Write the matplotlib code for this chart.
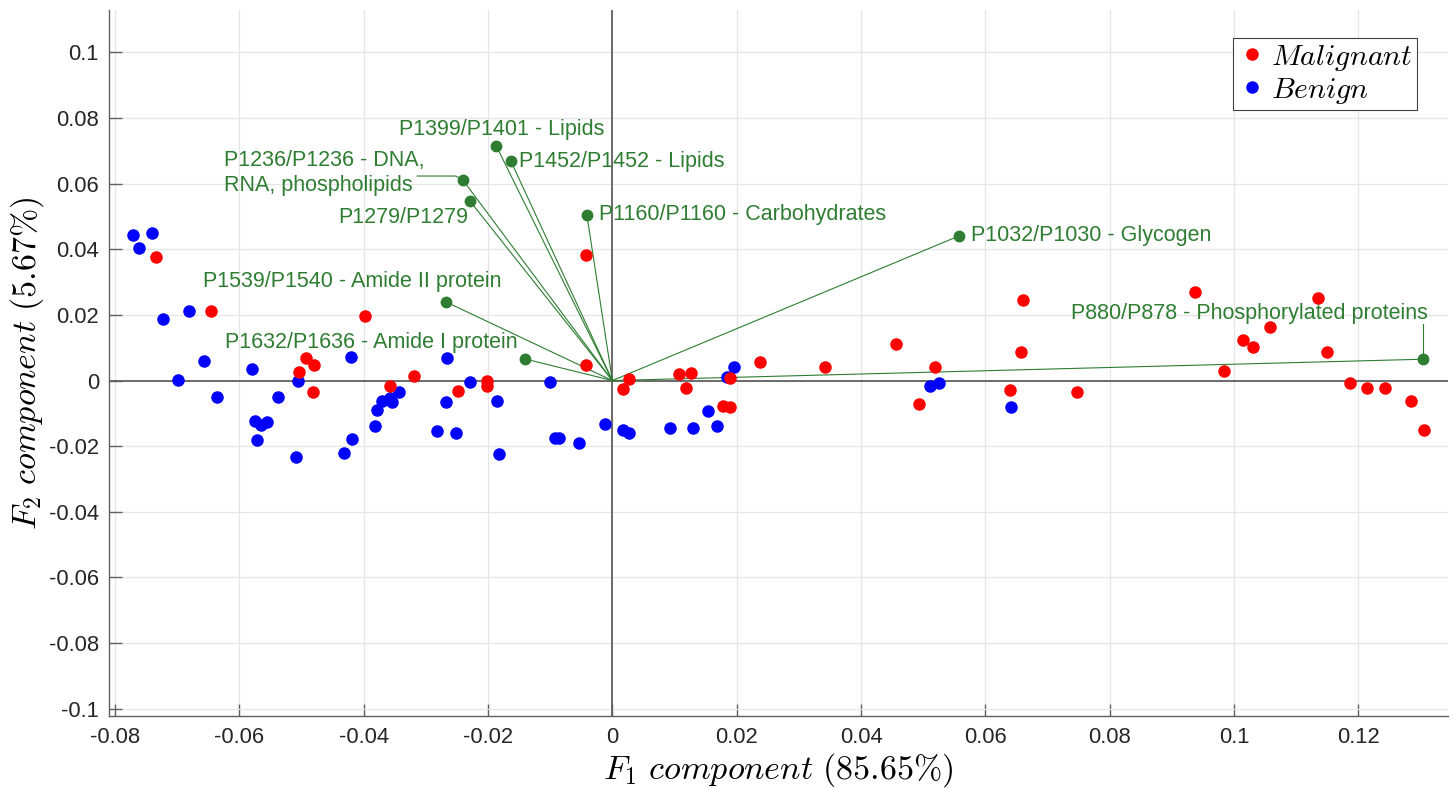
import numpy as np
import matplotlib
matplotlib.use("Agg")
import matplotlib.pyplot as plt
import matplotlib.transforms as mtransforms

plt.rcParams['font.family'] = ['Liberation Sans', 'DejaVu Sans']
plt.rcParams['mathtext.fontset'] = 'cm'

GREEN = "#2E7D32"

# PCA scores
mal_x = [-0.0734, -0.0646, -0.0398, -0.0492, -0.0480, -0.0504, -0.0481, -0.0043, -0.0043,
         -0.0319, -0.0357, -0.0249, -0.0202, -0.0202, 0.0027, 0.0017, 0.0107, 0.0126,
         0.0119, 0.0178, 0.0190, 0.0189, 0.0238, 0.0342, 0.0457, 0.0519, 0.0493, 0.0661,
         0.0658, 0.0640, 0.0747, 0.0937, 0.1135, 0.1058, 0.1014, 0.1031, 0.1149, 0.0983,
         0.1186, 0.1213, 0.1243, 0.1284, 0.1306]
mal_y = [0.0376, 0.0213, 0.0197, 0.0068, 0.0048, 0.0027, -0.0034, 0.0048, 0.0383,
         0.0013, -0.0016, -0.0031, -0.0001, -0.0018, 0.0005, -0.0025, 0.0020, 0.0023,
         -0.0023, -0.0078, -0.0081, 0.0007, 0.0055, 0.0040, 0.0112, 0.0040, -0.0072, 0.0245,
         0.0087, -0.0029, -0.0034, 0.0269, 0.0250, 0.0163, 0.0124, 0.0101, 0.0088, 0.0030,
         -0.0007, -0.0023, -0.0023, -0.0062, -0.0150]

ben_x = [-0.0771, -0.0741, -0.0761, -0.0722, -0.0681, -0.0657, -0.0698, -0.0579, -0.0505,
         -0.0421, -0.0636, -0.0538, -0.0574, -0.0565, -0.0555, -0.0571, -0.0508, -0.0431,
         -0.0418, -0.0266, -0.0343, -0.0371, -0.0358, -0.0355, -0.0379, -0.0381, -0.0229,
         -0.0267, -0.0185, -0.0100, -0.0282, -0.0252, -0.0182, -0.0092, -0.0086, -0.0054,
         -0.0012, 0.0017, 0.0027, 0.0093, 0.0129, 0.0154, 0.0169, 0.0196, 0.0185, 0.0511,
         0.0525, 0.0641]
ben_y = [0.0444, 0.0451, 0.0405, 0.0187, 0.0211, 0.0061, 0.0003, 0.0034, -0.0002,
         0.0072, -0.0051, -0.0050, -0.0122, -0.0135, -0.0126, -0.0181, -0.0233, -0.0220,
         -0.0179, 0.0070, -0.0035, -0.0062, -0.0054, -0.0066, -0.0089, -0.0140, -0.0004,
         -0.0064, -0.0061, -0.0005, -0.0153, -0.0160, -0.0225, -0.0174, -0.0174, -0.0189,
         -0.0131, -0.0152, -0.0161, -0.0144, -0.0146, -0.0092, -0.0139, 0.0041, 0.0012, -0.0018,
         -0.0006, -0.0082]

# loading vectors
vec_names = ["P1399/P1401 - Lipids", "P1452/P1452 - Lipids",
             "P1236/P1236 - DNA,\nRNA, phospholipids", "P1279/P1279",
             "P1160/P1160 - Carbohydrates", "P1032/P1030 - Glycogen",
             "P1539/P1540 - Amide II protein", "P1632/P1636 - Amide I protein",
             "P880/P878 - Phosphorylated proteins"]
vec_x = [-0.0187, -0.0163, -0.0240, -0.0229, -0.0041, 0.0558, -0.0268, -0.0141, 0.1304]
vec_y = [0.0716, 0.0668, 0.0610, 0.0547, 0.0505, 0.0441, 0.0240, 0.0066, 0.0065]

# label placement (offset in points, ha, va)
label_pos = [(-70, 11.8, 'left', 'center'), (6, 0, 'left', 'center'),
             (-172, 5.6, 'left', 'center'), (-95, -12.2, 'left', 'center'),
             (8.5, 0, 'left', 'center'), (8.5, 0, 'left', 'center'),
             (-175, 14.4, 'left', 'center'), (-216, 11.7, 'left', 'center'),
             (3.6, 33, 'right', 'center')]

fig = plt.figure(figsize=(14.55, 7.88), dpi=100)
ax = fig.add_axes([0.0747, 0.0914, 0.9205, 0.8959])

ax.set_xlim(-0.081, 0.1344)
ax.set_ylim(-0.1022, 0.1129)

ax.set_xticks(np.round(np.arange(-0.08, 0.121, 0.02), 2))
ax.set_yticks(np.round(np.arange(-0.1, 0.101, 0.02), 2))
ax.set_xticklabels(['%g' % t for t in ax.get_xticks()])
ax.set_yticklabels(['%g' % t for t in ax.get_yticks()])

ax.grid(True, color='#e6e6e6', lw=0.9)
ax.set_axisbelow(True)
for s in ['top', 'right']:
    ax.spines[s].set_visible(False)
for s in ['left', 'bottom']:
    ax.spines[s].set_color('#606060')
    ax.spines[s].set_linewidth(1.0)
ax.tick_params(direction='in', length=9, width=1, color='#606060',
               labelsize=15.8, labelcolor='#262626')
ax.tick_params(axis='x', pad=8)
ax.tick_params(axis='y', pad=7)

ax.axhline(0, color='#606060', lw=1.3, zorder=1)
ax.axvline(0, color='#606060', lw=1.3, zorder=1)

# vectors
for vx, vy in zip(vec_x, vec_y):
    ax.plot([0, vx], [0, vy], color=GREEN, lw=0.8, zorder=2)

hb, = ax.plot(ben_x, ben_y, 'o', color='blue', ms=8, ls='none', label='$Benign$', zorder=3)
hm, = ax.plot(mal_x, mal_y, 'o', color='red', ms=8, ls='none', label='$Malignant$', zorder=4)

ax.plot(vec_x, vec_y, 'o', color=GREEN, ms=7.5, ls='none', zorder=5)

for name, vx, vy, (dx, dy, ha, va) in zip(vec_names, vec_x, vec_y, label_pos):
    ax.annotate(name, (vx, vy), xytext=(dx, dy), textcoords='offset points',
                ha=ha, va=va, color=GREEN, fontsize=15.5, linespacing=1.25, zorder=6)


def leader(vx, vy, pts):
    tr = (mtransforms.Affine2D().scale(1 / 72.0) + fig.dpi_scale_trans
          + mtransforms.ScaledTranslation(vx, vy, ax.transData))
    xs = [p[0] for p in pts]
    ys = [p[1] for p in pts]
    ax.plot(xs, ys, color=GREEN, lw=0.8, transform=tr, zorder=2)


leader(vec_x[2], vec_y[2], [(-33.1, 3.1), (-5.3, 3.1), (0, 0)])
leader(vec_x[8], vec_y[8], [(0, 25.5), (0, 0)])

ax.set_xlabel(r'$F_1\ component\ (85.65\%)$', fontsize=24.5, labelpad=2)
ax.set_ylabel(r'$F_2\ component\ (5.67\%)$', fontsize=24.5, labelpad=2)

leg = ax.legend(handles=[hm, hb], loc='upper right', bbox_to_anchor=(0.977, 0.960),
                fontsize=21.5, fancybox=False, framealpha=1, edgecolor='#404040',
                handletextpad=0.13, handlelength=1.0, borderpad=0.15, labelspacing=0.1,
                borderaxespad=0)
leg.get_frame().set_linewidth(0.8)

fig.savefig('out.png', dpi=100)
